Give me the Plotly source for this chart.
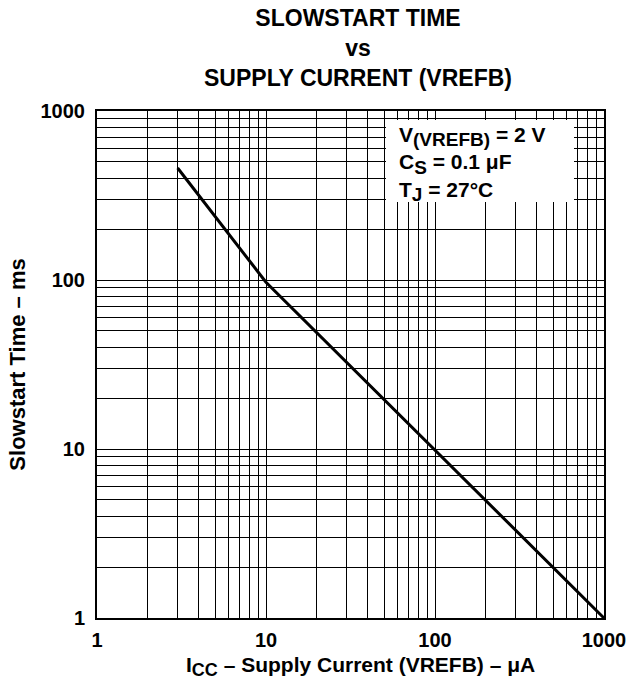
import plotly.graph_objects as go

supply_current_uA = [3, 10, 1000]
slowstart_ms = [460, 97, 1]

tick_vals = [1, 10, 100, 1000]
tick_text = ["1", "10", "100", "1000"]
minor_vals = [m * d for d in [1, 10, 100] for m in range(2, 10)]

FONT = "Liberation Sans, Arial, sans-serif"
W, H = 633, 685
L, R, T, B = 97, 29, 111, 67
PW, PH = W - L - R, H - T - B

fig = go.Figure()
fig.add_trace(go.Scatter(x=supply_current_uA, y=slowstart_ms, mode="lines",
                         line=dict(color="black", width=3), showlegend=False,
                         hoverinfo="skip"))

def axis(standoff_labels):
    return dict(
        type="log", range=[0, 3], tickmode="array", tickvals=tick_vals, ticktext=tick_text,
        showgrid=True, gridcolor="black", gridwidth=1,
        showline=True, linecolor="black", linewidth=2, mirror=True,
        ticks="", zeroline=False, automargin=False,
        ticklabelstandoff=standoff_labels,
        tickfont=dict(family=FONT, size=20, color="black", weight="bold"),
        minor=dict(tickmode="array", tickvals=minor_vals, showgrid=True,
                   gridcolor="black", gridwidth=1, ticks=""),
    )

fig.update_layout(
    width=W, height=H,
    margin=dict(l=L, r=R, t=T, b=B, autoexpand=False),
    paper_bgcolor="white", plot_bgcolor="white",
    font=dict(family=FONT, color="black"),
    xaxis=axis(3),
    yaxis=dict(axis(6),
               title=dict(text="Slowstart Time – ms",
                          font=dict(family=FONT, size=22, weight="bold"), standoff=9)),
    title=dict(text="SLOWSTART TIME<br>vs<br>SUPPLY CURRENT (VREFB)",
               x=358 / W, xanchor="center", y=1 - 26 / H, yanchor="top",
               font=dict(family=FONT, size=23, weight="bold")),
)

# x-axis title
fig.add_annotation(
    xref="paper", yref="paper", x=(360 - L) / PW, y=1 - (666 - T) / PH,
    xanchor="center", yanchor="middle", showarrow=False,
    text="I<sub><span style='font-size:18px'>CC</span></sub> – Supply Current (VREFB) – μA",
    font=dict(family=FONT, size=21, color="black", weight="bold"),
)

# white box behind the condition text
fig.add_shape(type="rect", xref="paper", yref="paper", layer="above",
              x0=(386 - L) / PW, x1=(574 - L) / PW,
              y0=1 - (202 - T) / PH, y1=1 - (120 - T) / PH,
              fillcolor="white", line=dict(width=0))

fig.add_annotation(
    xref="paper", yref="paper", x=(398 - L) / PW, y=1 - (122 - T) / PH,
    xanchor="left", yanchor="top", showarrow=False, align="left", borderpad=0,
    text=("V<sub><span style='font-size:19px'>(VREFB)</span></sub> = 2 V<br>"
          "C<sub><span style='font-size:19px'>S</span></sub> = 0.1 μF<br>"
          "T<sub><span style='font-size:19px'>J</span></sub> = 27°C"),
    font=dict(family=FONT, size=21, color="black", weight="bold"),
)

fig.write_html("out.html", config={"displayModeBar": False},
               post_script="document.body.style.margin='0px';")
